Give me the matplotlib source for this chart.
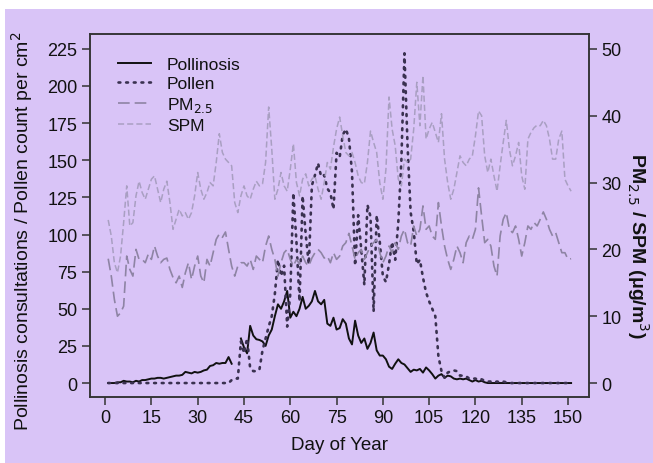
import numpy as np
import matplotlib.pyplot as plt
from matplotlib.patches import Rectangle

plt.rcParams['font.family'] = ['Liberation Sans', 'DejaVu Sans']

days = np.arange(1, 152)

# pollinosis consultations (left axis), days 1..151, NaN = missing
pollinosis = [
    0, 0, 0, 0.5, 0.5, 1.5, 1, 1, 0.5, 1.5,
    1, 2, 2, 2.5, 3, 3, 3.5, 3.5, 3, 3.5,
    4, 4.5, 5, 5, 5.5, 7.5, 7, 6.5, 7.5, 7,
    7.5, 8.5, 9, 11.5, 12, 13.5, 13, 13.5, 13.5, 17.5,
    13, np.nan, np.nan, 30, 24, 20, 38.5, 32, 29.5, 29,
    28, 25, 32, 36, 45, 53, 50, 55, 62, 44,
    48, 45, 50, 58, 50, 52, 55, 62, 55, 53,
    56, 40, 38.5, 44, 36, 37, 43, 40, 30, 26,
    42, 32, 27, 30, 23, 27, 34, 22, 18.5, 18.5,
    16, 11, 9.5, 13, 16, 13.5, 12.5, 10, 7.5, 9,
    8.5, 9.5, 7, 10.5, 8.5, 6, 3, 5, 6, 3.5,
    5, 4.5, 3, 2.5, 3, 2.5, 3, 2, 1, 2,
    1, 1.5, 0.5, 0, 0, 0, 0, 0, 0, 0,
    0, 0, 0, 0, 0, 0, 0, 0, 0, 0,
    0, 0, 0, 0, 0, 0, 0, 0, 0, 0,
    0,
]

# pollen count per cm2 (left axis)
pollen = [
    0, 0, 0, 0, 0, 0, 0, 0, 0, 0,
    0, 0, 0, 0, 0, 0, 0, 0, 0, 0,
    0, 0, 0, 0, 0, 0, 0, 0, 0, 0,
    0, 0, 0, 0, 0, 0, 0, 0, 0, 0,
    2, 3, 3, 28, 20, 30, 10, 8, 8, 9,
    22, 30, 38, 45, 60, 83, 72, 79, 38, 60,
    128, 95, 55, 126, 100, 80, 133, 140, 148, 139,
    140, 131, 128, 117, 155, 152, 167, 171, 165, 142,
    79, 113, 90, 66, 120, 112, 48, 113, 95, 72,
    68, 80, 95, 83, 108, 150, 222, 160, 115, 102,
    80, 83, 71, 61, 55, 50, 45, 18, 8, 3.5,
    7, 8, 8.5, 8, 5, 5, 4.5, 3, 3, 3,
    2, 2.5, 1.5, 1, 1, 0.5, 1, 0.5, 1, 0.5,
    0, 0, 0, 0, 0, 0, 0, 0, 0, 0,
    0, 0, 0, 0, 0, 0, 0, 0, 0, 0,
    0,
]

# PM2.5 (right axis, ug/m3)
pm25 = [
    18.6, 16, 12.5, 10, 10.5, 11.5, 19, 17, 16, 20,
    18.5, 18.5, 18, 19.3, 18.5, 20.5, 19, 18, 18.5, 18.7,
    17, 15.8, 15, 16, 14.3, 16.5, 18, 15.5, 17.5, 19,
    16, 15, 18.5, 17.5, 19.5, 21.5, 22.3, 21.8, 22.6, 20,
    17.5, 16, 17.5, 18, 18, 17.5, 18.5, 17, 19, 18.5,
    18, 20.5, 22, 20, 18.5, 16, 18, 19.5, 20, 18.5,
    17.5, 18.5, 17.8, 19, 18, 17.5, 18.7, 19.5, 20, 19.5,
    18.7, 19, 18, 19.5, 18.5, 19, 20.5, 21, 22.4, 20.5,
    18.5, 19.5, 20, 18.5, 19.5, 20.5, 21, 21.5, 19.5, 18,
    19, 20.5, 19.5, 21, 20, 22, 23, 21, 20.5, 23.5,
    22, 23, 26.5, 23, 23.5, 22, 21.5, 27, 23.5, 20.5,
    18.5, 17, 18.5, 20.5, 19.5, 18, 21, 22, 21.5, 23,
    29.2, 25, 21, 21.5, 20.5, 17.5, 16, 22, 24.5, 25.5,
    23, 22.5, 23.5, 21.5, 19, 21, 23.5, 23, 24, 23.5,
    24.5, 25.6, 24.5, 23, 22, 22.5, 21, 19.5, 19.5, 18.5,
    18.6,
]

# SPM (right axis, ug/m3)
spm = [
    24.4, 22, 18, 16.5, 19, 24, 29.5, 23.5, 24, 28,
    30.2, 28.5, 27.5, 29, 30.5, 31, 29, 27, 29, 30.2,
    27, 23, 24.5, 26, 25, 25.5, 24.5, 25.5, 28, 31.5,
    29, 27.5, 28.5, 30, 29.5, 33, 37.3, 34.5, 33.5, 33,
    32.5, 27, 25.5, 28, 29.5, 28, 27.5, 29, 30.2, 29.5,
    29.8, 33, 41.3, 35, 27.5, 29, 31.5, 29.5, 28.7, 32,
    35.8, 30, 28, 30.5, 31.3, 29.5, 30.5, 31, 29, 27.5,
    30, 33, 32, 35.3, 38, 39.8, 37, 34.5, 34, 34.5,
    33, 31, 30, 29.8, 33, 37.7, 36, 34.5, 30, 27.5,
    32, 42.8, 38, 35.5, 30.5, 29.5, 33.5, 33, 33.5, 38,
    45, 38.5, 46, 36.5, 38, 39, 37.5, 36, 40.3, 33.5,
    30, 27.5, 29, 31.5, 34, 33, 32.5, 33.5, 34, 37,
    40.7, 40, 34, 31.5, 33.5, 31, 28.7, 32.5, 36, 39.3,
    35, 32.5, 34, 36, 31, 29, 36.5, 37.5, 38.2, 38.6,
    38.5, 39.3, 38.5, 36.5, 33.5, 33.5, 36.5, 37.7, 30.5, 29.5,
    28.7,
]

xticks = list(range(0, 151, 15))
left_ticks = list(range(0, 226, 25))
right_ticks = [0, 10, 20, 30, 40, 50]

bg = '#d9c4f7'
txt = '#111111'

fig = plt.figure(figsize=(6.53, 4.64), dpi=100, facecolor='white')
fig.patches.append(Rectangle((5 / 653, 0), 1, 454 / 464, transform=fig.transFigure,
                             facecolor=bg, edgecolor='none', zorder=-5))

ax = fig.add_axes([90 / 653, 66 / 464, 499 / 653, 363 / 464])
ax.set_facecolor('none')
ax2 = ax.twinx()
ax2.set_facecolor('none')

l1, = ax.plot(days, pollinosis, color='#111111', lw=1.4, label='Pollinosis')
l2, = ax.plot(days, pollen, color='#3a3150', lw=1.9, linestyle=(0, (0.7, 2.2)),
              dash_capstyle='round', label='Pollen')
l3, = ax2.plot(days, pm25, color='#8e84a4', lw=1.2, linestyle=(0, (7, 3)),
               label='PM$_{2.5}$')
l4, = ax2.plot(days, spm, color='#a99fc2', lw=1.1, linestyle=(0, (4, 2)),
               label='SPM')

ax.set_xlim(-4.9, 156.8)
ax.set_ylim(-9.4, 235)
ax2.set_ylim(-9.4 / 4.5, 235 / 4.5)

ax.set_xticks(xticks)
ax.set_yticks(left_ticks)
ax2.set_yticks(right_ticks)

for a in (ax, ax2):
    for s in a.spines.values():
        s.set_color('#333333')
        s.set_linewidth(1.1)
    a.tick_params(axis='both', direction='out', length=6, width=1.1,
                  colors='#333333', labelcolor=txt, labelsize=13, pad=3)

ax.set_xlabel('Day of Year', fontsize=13.5, color=txt, labelpad=7)
ax.set_ylabel('Pollinosis consultations / Pollen count per cm$^2$',
              fontsize=14, color=txt)
ax.yaxis.set_label_coords(-0.11, 0.46)
ax2.set_ylabel('PM$_{2.5}$ / SPM (\u03bcg/m$^3$)', fontsize=14, color=txt,
               rotation=270, fontweight='bold')
ax2.yaxis.set_label_coords(1.125, 0.42)

leg = ax2.legend(handles=[l1, l2, l3, l4], loc='upper left',
                 bbox_to_anchor=(0.025, 0.98), frameon=False, fontsize=12.5,
                 handlelength=1.9, handletextpad=0.9, labelspacing=0.22,
                 labelcolor=txt)

fig.savefig('out.png', dpi=100, facecolor=fig.get_facecolor())
